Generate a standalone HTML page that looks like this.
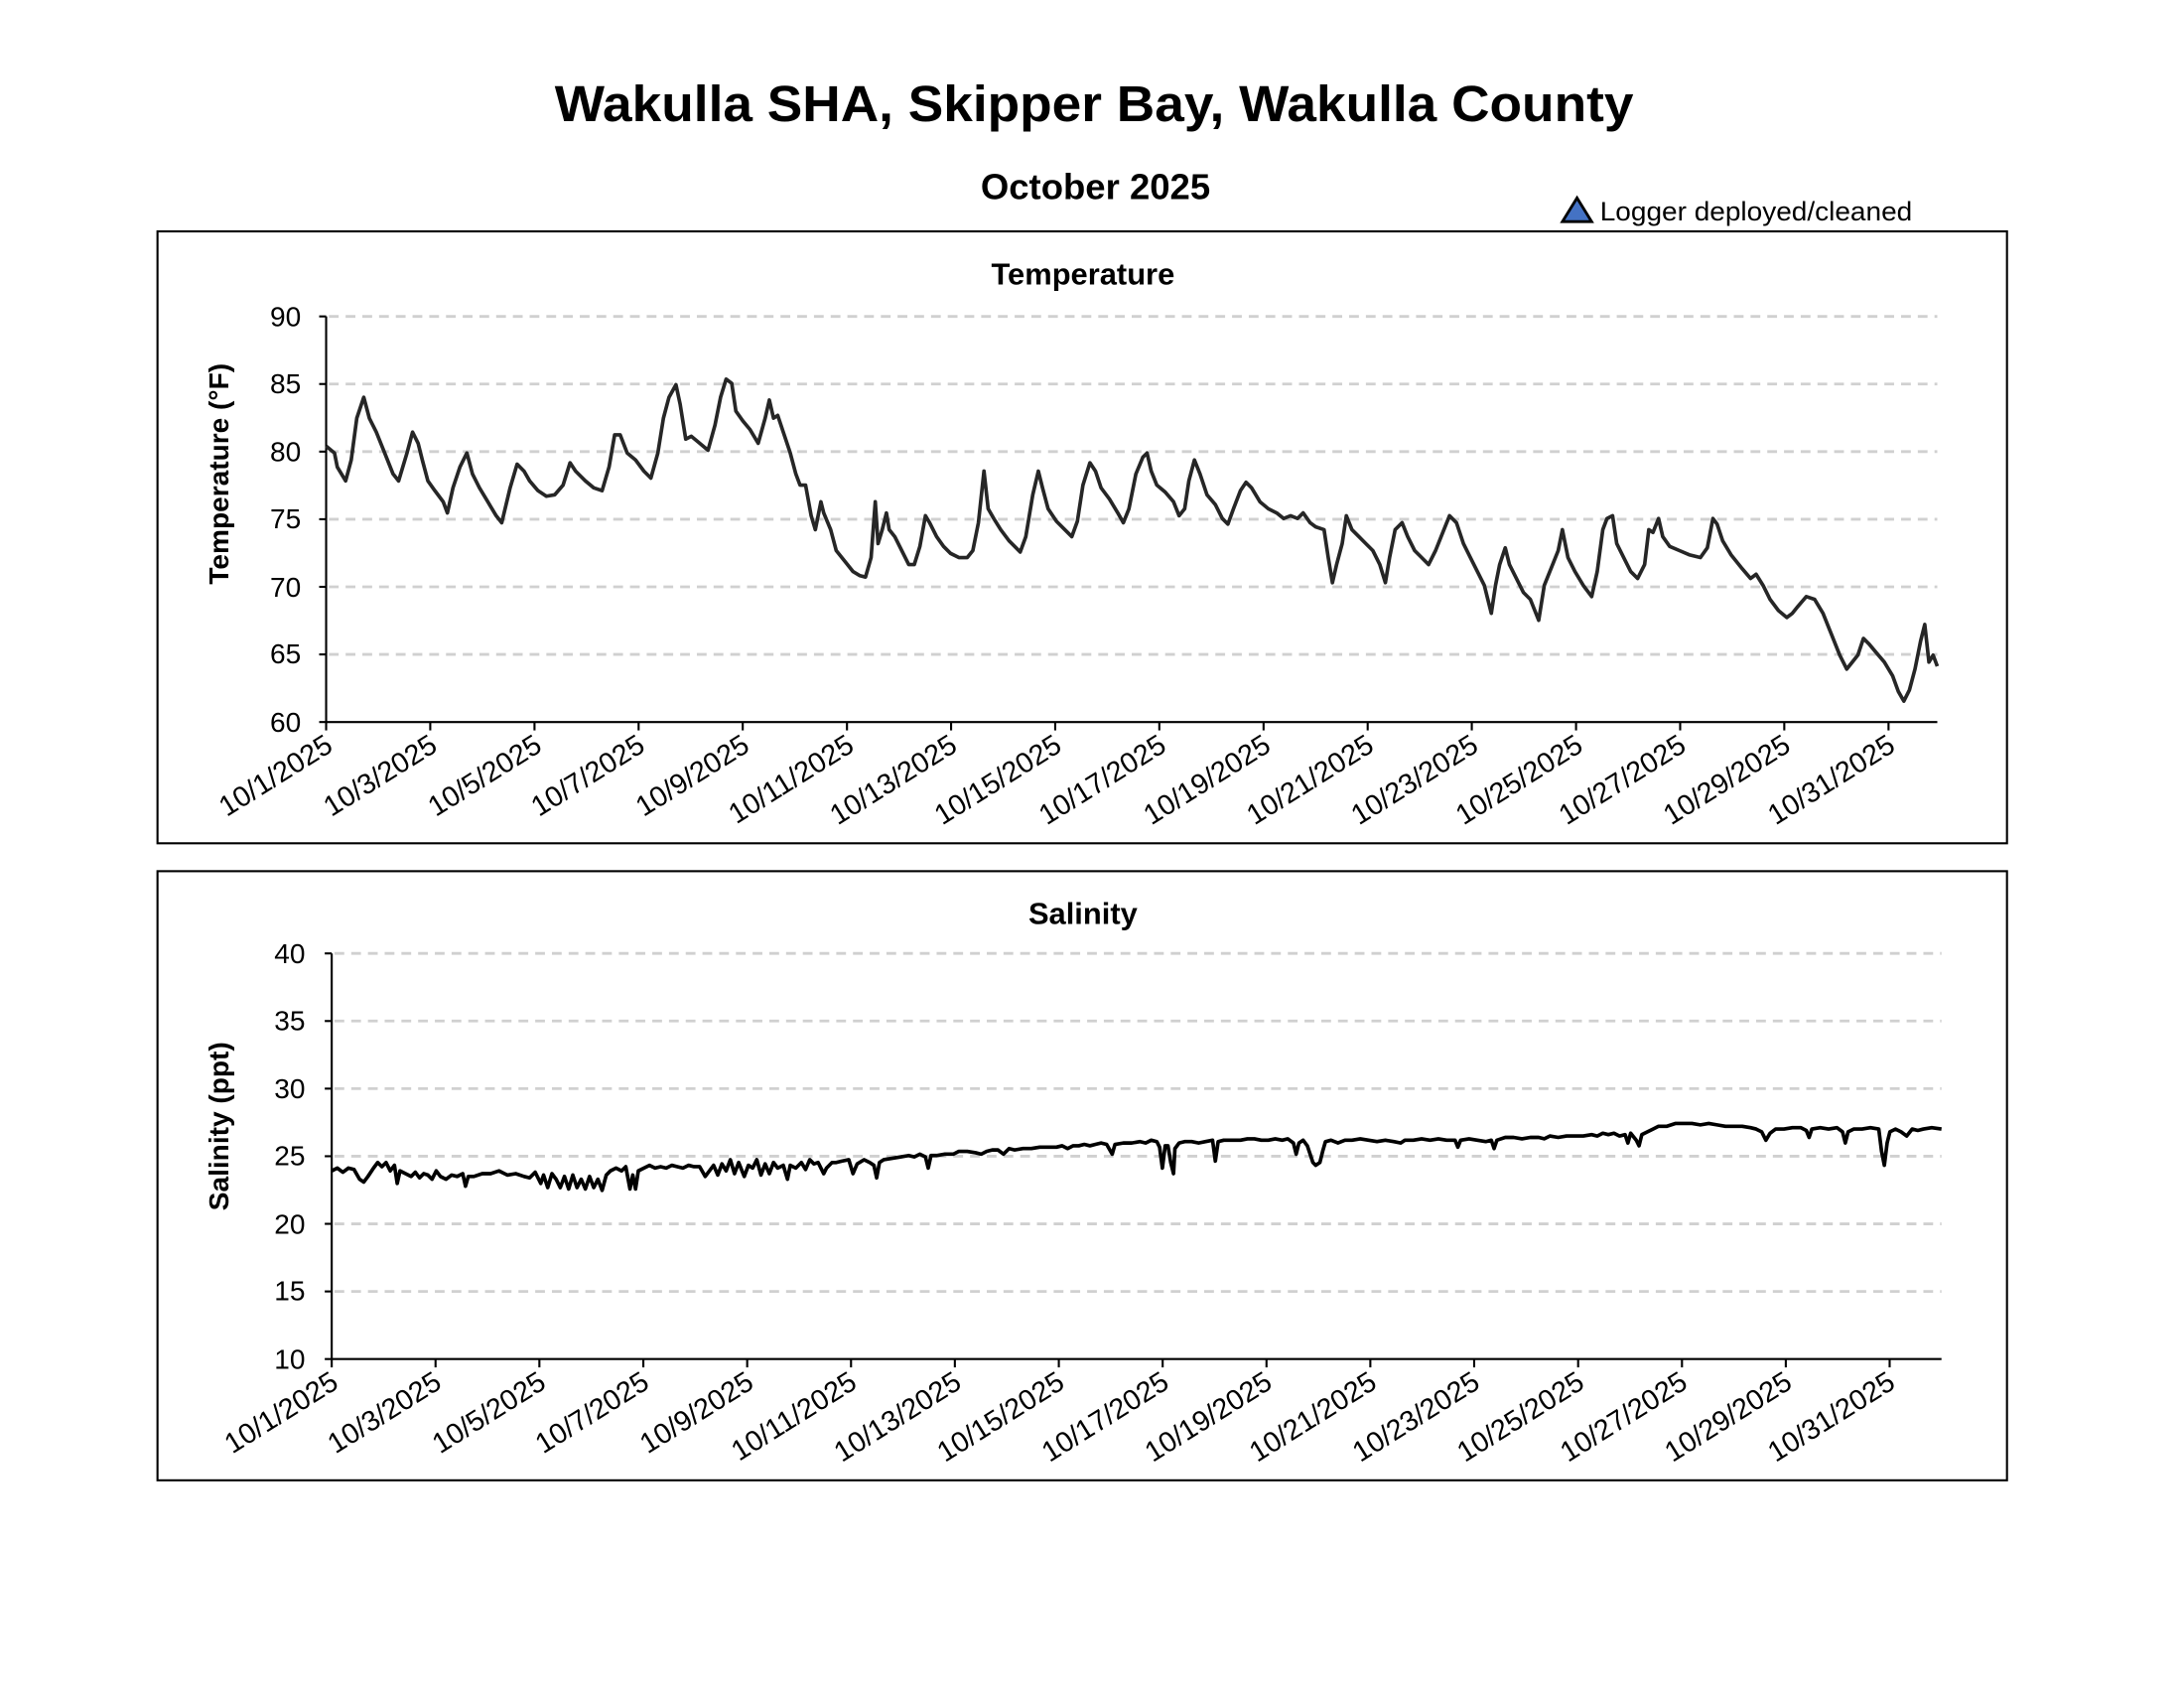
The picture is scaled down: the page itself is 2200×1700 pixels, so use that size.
<!DOCTYPE html>
<html><head><meta charset="utf-8"><style>html,body{margin:0;padding:0;background:#fff}svg{display:block}</style></head>
<body>
<svg width="2200" height="1700" viewBox="0 0 1567 1211" preserveAspectRatio="none" xmlns="http://www.w3.org/2000/svg" font-family="'Liberation Sans', Arial, sans-serif">
<rect width="1567" height="1211" fill="#fff"/>
<text x="785" y="87" font-size="36" font-weight="bold" text-anchor="middle" textLength="774" lengthAdjust="spacingAndGlyphs">Wakulla SHA, Skipper Bay, Wakulla County</text>
<text x="786" y="143" font-size="26" font-weight="bold" text-anchor="middle">October 2025</text>
<polygon points="1121,159 1131.5,142 1142,159" fill="#4472c4" stroke="#000" stroke-width="2"/>
<text x="1148" y="158" font-size="19" textLength="224" lengthAdjust="spacingAndGlyphs">Logger deployed/cleaned</text>

<!-- Temperature -->
<rect x="113" y="166" width="1327" height="439" fill="none" stroke="#000" stroke-width="1.5"/>
<text x="777" y="204" font-size="22" font-weight="bold" text-anchor="middle">Temperature</text>
<g stroke="#d0d0d0" stroke-width="2" stroke-dasharray="7,5">
<line x1="236" y1="227" x2="1390" y2="227"/><line x1="236" y1="275.5" x2="1390" y2="275.5"/><line x1="236" y1="324" x2="1390" y2="324"/><line x1="236" y1="372.5" x2="1390" y2="372.5"/><line x1="236" y1="421" x2="1390" y2="421"/><line x1="236" y1="469.5" x2="1390" y2="469.5"/>
</g>
<g stroke="#000" stroke-width="1.5">
<line x1="234" y1="227" x2="234" y2="518"/><line x1="234" y1="518" x2="1390" y2="518"/>
<line x1="229" y1="227" x2="234" y2="227"/><line x1="229" y1="275.5" x2="234" y2="275.5"/><line x1="229" y1="324" x2="234" y2="324"/><line x1="229" y1="372.5" x2="234" y2="372.5"/><line x1="229" y1="421" x2="234" y2="421"/><line x1="229" y1="469.5" x2="234" y2="469.5"/><line x1="229" y1="518" x2="234" y2="518"/>
</g>
<g font-size="20" text-anchor="end">
<text x="216" y="234">90</text><text x="216" y="282">85</text><text x="216" y="331">80</text><text x="216" y="379">75</text><text x="216" y="428">70</text><text x="216" y="476">65</text><text x="216" y="525">60</text>
</g>
<text transform="translate(164,340) rotate(-90)" font-size="20" font-weight="bold" text-anchor="middle">Temperature (°F)</text>
<g stroke="#000" stroke-width="1.5">
<line x1="234" y1="518" x2="234" y2="524"/><line x1="308.7" y1="518" x2="308.7" y2="524"/><line x1="383.5" y1="518" x2="383.5" y2="524"/><line x1="458.2" y1="518" x2="458.2" y2="524"/><line x1="532.9" y1="518" x2="532.9" y2="524"/><line x1="607.7" y1="518" x2="607.7" y2="524"/><line x1="682.4" y1="518" x2="682.4" y2="524"/><line x1="757.1" y1="518" x2="757.1" y2="524"/><line x1="831.8" y1="518" x2="831.8" y2="524"/><line x1="906.6" y1="518" x2="906.6" y2="524"/><line x1="981.3" y1="518" x2="981.3" y2="524"/><line x1="1056" y1="518" x2="1056" y2="524"/><line x1="1130.8" y1="518" x2="1130.8" y2="524"/><line x1="1205.5" y1="518" x2="1205.5" y2="524"/><line x1="1280.2" y1="518" x2="1280.2" y2="524"/><line x1="1355" y1="518" x2="1355" y2="524"/>
</g>
<g font-size="20.5" text-anchor="end">
<text transform="translate(240,538) rotate(-32)">10/1/2025</text>
<text transform="translate(315,538) rotate(-32)">10/3/2025</text>
<text transform="translate(390,538) rotate(-32)">10/5/2025</text>
<text transform="translate(464,538) rotate(-32)">10/7/2025</text>
<text transform="translate(539,538) rotate(-32)">10/9/2025</text>
<text transform="translate(614,538) rotate(-32)">10/11/2025</text>
<text transform="translate(688,538) rotate(-32)">10/13/2025</text>
<text transform="translate(763,538) rotate(-32)">10/15/2025</text>
<text transform="translate(838,538) rotate(-32)">10/17/2025</text>
<text transform="translate(913,538) rotate(-32)">10/19/2025</text>
<text transform="translate(987,538) rotate(-32)">10/21/2025</text>
<text transform="translate(1062,538) rotate(-32)">10/23/2025</text>
<text transform="translate(1137,538) rotate(-32)">10/25/2025</text>
<text transform="translate(1211,538) rotate(-32)">10/27/2025</text>
<text transform="translate(1286,538) rotate(-32)">10/29/2025</text>
<text transform="translate(1361,538) rotate(-32)">10/31/2025</text>
</g>
<polyline fill="none" stroke="#262626" stroke-width="2.6" stroke-linejoin="round" points="234,320 240,325 242,335 248,345 252,330 256,300 261,285 265,300 270,310 276,325 282,340 286,345 292,325 296,310 300,318 303,330 307,345 312,352 318,360 321,368 325,350 330,335 335,325 339,340 344,350 350,360 356,370 360,375 366,350 371,333 376,338 380,345 386,352 392,356 398,355 404,348 409,332 413,338 420,345 426,350 432,352 437,335 441,312 445,312 450,325 456,330 462,338 467,343 472,325 476,300 480,285 485,276 488,290 492,315 496,313 502,318 508,323 513,305 517,285 521,272 525,275 528,295 533,302 538,308 544,318 549,300 552,287 555,300 558,298 562,310 567,325 571,340 574,348 578,348 582,370 585,380 589,360 591,368 596,380 600,395 604,400 608,405 612,410 617,413 621,414 625,400 628,360 630,390 633,380 636,368 638,380 642,385 647,395 652,405 656,405 660,392 664,370 667,375 672,385 677,392 682,397 688,400 694,400 698,395 702,375 706,338 709,365 713,372 718,380 724,388 732,396 736,385 741,355 745,338 748,350 752,365 758,374 764,380 769,385 773,374 777,348 782,332 786,338 790,350 796,358 802,368 806,375 810,365 815,340 820,328 823,325 826,338 830,348 836,353 842,360 846,370 850,365 853,345 857,330 861,340 866,355 872,362 877,372 881,376 885,365 890,352 894,346 898,350 904,360 910,365 916,368 921,372 926,370 931,372 935,368 940,375 944,378 950,380 953,400 956,418 959,405 963,390 966,370 970,380 975,385 980,390 985,395 990,405 994,418 997,400 1001,380 1006,375 1010,385 1015,395 1020,400 1025,405 1030,395 1034,385 1040,370 1045,375 1050,390 1055,400 1060,410 1065,420 1070,440 1073,420 1076,405 1080,393 1083,405 1088,415 1093,425 1098,430 1104,445 1108,420 1114,405 1118,395 1121,380 1125,400 1130,410 1136,420 1142,428 1146,410 1150,380 1153,372 1157,370 1160,390 1165,400 1170,410 1175,415 1180,405 1183,380 1186,382 1190,372 1193,385 1198,392 1205,395 1212,398 1220,400 1225,393 1229,372 1232,376 1236,388 1242,398 1250,408 1256,415 1260,412 1265,420 1270,430 1276,438 1282,443 1286,440 1290,435 1296,428 1302,430 1308,440 1314,455 1320,470 1325,480 1329,475 1333,470 1337,458 1341,462 1346,468 1352,475 1358,485 1362,496 1366,503 1370,495 1374,480 1378,460 1381,448 1384,475 1387,470 1390,478"/>

<!-- Salinity -->
<rect x="113" y="625" width="1327" height="437" fill="none" stroke="#000" stroke-width="1.5"/>
<text x="777" y="663" font-size="22" font-weight="bold" text-anchor="middle">Salinity</text>
<g stroke="#d0d0d0" stroke-width="2" stroke-dasharray="7,5">
<line x1="240" y1="684" x2="1393" y2="684"/><line x1="240" y1="732.5" x2="1393" y2="732.5"/><line x1="240" y1="781" x2="1393" y2="781"/><line x1="240" y1="829.5" x2="1393" y2="829.5"/><line x1="240" y1="878" x2="1393" y2="878"/><line x1="240" y1="926.5" x2="1393" y2="926.5"/>
</g>
<g stroke="#000" stroke-width="1.5">
<line x1="238" y1="684" x2="238" y2="975"/><line x1="238" y1="975" x2="1393" y2="975"/>
<line x1="233" y1="684" x2="238" y2="684"/><line x1="233" y1="732.5" x2="238" y2="732.5"/><line x1="233" y1="781" x2="238" y2="781"/><line x1="233" y1="829.5" x2="238" y2="829.5"/><line x1="233" y1="878" x2="238" y2="878"/><line x1="233" y1="926.5" x2="238" y2="926.5"/><line x1="233" y1="975" x2="238" y2="975"/>
</g>
<g font-size="20" text-anchor="end">
<text x="219" y="691">40</text><text x="219" y="739">35</text><text x="219" y="788">30</text><text x="219" y="836">25</text><text x="219" y="885">20</text><text x="219" y="933">15</text><text x="219" y="982">10</text>
</g>
<text transform="translate(164,808) rotate(-90)" font-size="20" font-weight="bold" text-anchor="middle">Salinity (ppt)</text>
<g stroke="#000" stroke-width="1.5">
<line x1="238" y1="975" x2="238" y2="981"/><line x1="312.5" y1="975" x2="312.5" y2="981"/><line x1="387" y1="975" x2="387" y2="981"/><line x1="461.6" y1="975" x2="461.6" y2="981"/><line x1="536.1" y1="975" x2="536.1" y2="981"/><line x1="610.6" y1="975" x2="610.6" y2="981"/><line x1="685.1" y1="975" x2="685.1" y2="981"/><line x1="759.7" y1="975" x2="759.7" y2="981"/><line x1="834.2" y1="975" x2="834.2" y2="981"/><line x1="908.7" y1="975" x2="908.7" y2="981"/><line x1="983.2" y1="975" x2="983.2" y2="981"/><line x1="1057.7" y1="975" x2="1057.7" y2="981"/><line x1="1132.3" y1="975" x2="1132.3" y2="981"/><line x1="1206.8" y1="975" x2="1206.8" y2="981"/><line x1="1281.3" y1="975" x2="1281.3" y2="981"/><line x1="1355.8" y1="975" x2="1355.8" y2="981"/>
</g>
<g font-size="20.5" text-anchor="end">
<text transform="translate(244,995) rotate(-32)">10/1/2025</text>
<text transform="translate(318,995) rotate(-32)">10/3/2025</text>
<text transform="translate(393,995) rotate(-32)">10/5/2025</text>
<text transform="translate(467,995) rotate(-32)">10/7/2025</text>
<text transform="translate(542,995) rotate(-32)">10/9/2025</text>
<text transform="translate(616,995) rotate(-32)">10/11/2025</text>
<text transform="translate(691,995) rotate(-32)">10/13/2025</text>
<text transform="translate(765,995) rotate(-32)">10/15/2025</text>
<text transform="translate(840,995) rotate(-32)">10/17/2025</text>
<text transform="translate(914,995) rotate(-32)">10/19/2025</text>
<text transform="translate(989,995) rotate(-32)">10/21/2025</text>
<text transform="translate(1063,995) rotate(-32)">10/23/2025</text>
<text transform="translate(1138,995) rotate(-32)">10/25/2025</text>
<text transform="translate(1212,995) rotate(-32)">10/27/2025</text>
<text transform="translate(1287,995) rotate(-32)">10/29/2025</text>
<text transform="translate(1361,995) rotate(-32)">10/31/2025</text>
</g>
<polyline fill="none" stroke="#000" stroke-width="2.6" stroke-linejoin="round" points="238,840 242,838 246,841 250,838 254,839 258,846 261,848 264,844 268,838 271,834 274,837 277,834 280,840 283,836 285,849 287,840 291,842 295,844 298,841 301,845 304,842 307,843 310,846 313,840 316,844 320,846 324,843 328,844 332,842 334,851 336,844 340,844 346,842 352,842 358,840 364,843 370,842 376,844 380,845 384,841 388,849 390,843 393,852 396,842 399,846 402,852 405,844 408,853 411,843 414,852 417,846 420,853 423,844 426,852 429,846 432,854 435,843 438,840 442,838 446,840 449,837 452,853 454,843 456,853 458,840 462,838 466,836 470,838 474,837 478,838 482,836 486,837 490,838 494,836 498,837 502,837 506,844 509,840 512,836 515,843 518,835 521,840 524,832 527,842 530,834 534,844 537,836 540,838 543,832 546,843 549,835 552,842 555,834 558,838 562,836 565,846 567,836 571,838 575,834 578,839 581,832 584,835 587,834 591,842 593,838 597,834 600,834 604,833 609,832 612,842 615,835 620,832 624,834 627,836 629,845 631,834 634,832 640,831 646,830 652,829 656,830 660,828 664,830 666,838 668,829 672,829 678,828 684,828 688,826 694,826 700,827 704,828 708,826 712,825 716,825 720,828 724,824 728,825 734,824 740,824 746,823 752,823 758,823 762,822 766,824 770,822 774,822 778,821 782,822 786,821 790,820 794,821 798,828 800,821 806,820 812,820 818,819 822,820 826,818 830,819 832,823 834,838 836,822 838,822 840,834 842,842 843,824 846,820 850,819 855,819 860,820 865,819 870,818 872,833 874,819 878,818 884,818 890,818 895,817 900,817 905,818 910,818 915,817 920,818 924,817 928,820 930,828 932,820 935,818 938,822 940,828 942,834 944,836 947,834 949,826 951,819 955,818 960,820 965,818 970,818 976,817 982,818 988,819 994,818 1000,819 1005,820 1008,818 1014,818 1020,817 1026,818 1032,817 1038,818 1044,818 1046,823 1048,818 1054,817 1060,818 1066,819 1070,818 1072,824 1074,818 1080,816 1086,816 1092,817 1098,816 1104,816 1108,817 1112,815 1118,816 1124,815 1130,815 1136,815 1142,814 1146,815 1150,813 1154,814 1158,813 1162,815 1166,814 1168,820 1170,813 1174,818 1176,822 1178,814 1182,812 1186,810 1190,808 1196,808 1202,806 1208,806 1214,806 1220,807 1226,806 1232,807 1238,808 1244,808 1250,808 1256,809 1260,810 1264,812 1267,818 1270,813 1274,810 1280,810 1286,809 1292,809 1296,811 1298,816 1300,810 1306,809 1312,810 1318,809 1322,812 1324,820 1326,812 1330,810 1336,810 1342,809 1348,810 1350,826 1352,836 1354,820 1356,812 1360,810 1364,812 1368,815 1372,810 1376,811 1380,810 1386,809 1393,810"/>
</svg>
</body></html>
